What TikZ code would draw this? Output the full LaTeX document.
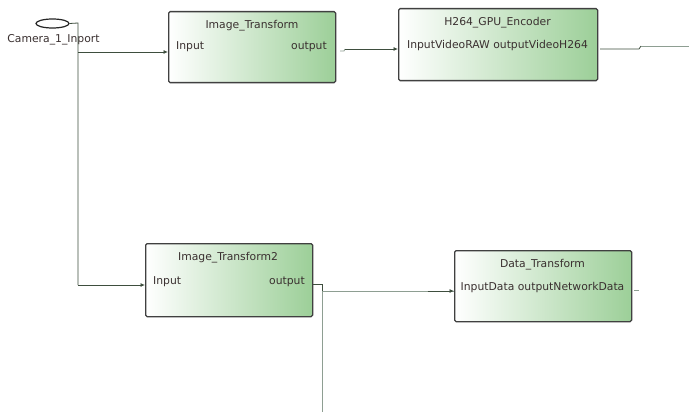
\documentclass[tikz,border=0pt]{standalone}
\usepackage{fontspec}
\setmainfont{DejaVu Sans}
\usetikzlibrary{arrows.meta,shapes.geometric,calc}
\definecolor{boxgreen}{HTML}{9CCF98}
\definecolor{wire}{HTML}{3E4E3E}
\definecolor{wirelight}{HTML}{8E9E92}
\definecolor{txt}{HTML}{3A3030}
\tikzset{
  blk/.style={draw=black!75, line width=1.3pt, rounded corners=1.5pt,
    left color=white, right color=boxgreen, anchor=north west, inner sep=0pt},
  lbl/.style={font=\fontsize{10.8}{12}\selectfont, text=txt, inner sep=0pt},
  wireln/.style={draw=wire, line width=0.8pt},
  wirelt/.style={draw=wirelight, line width=0.8pt},
  arr/.style={-{Latex[length=4.5pt,width=4pt]}}
}
\begin{document}
\begin{tikzpicture}[x=1pt,y=-1pt]
\useasboundingbox[fill=white] (0,0) rectangle (689,412);
% Camera inport
\node[draw=black!85, line width=1.2pt, ellipse, minimum width=33pt, minimum height=9pt, inner sep=0pt] (cam) at (52.5,23.5) {};
\node[lbl, anchor=center] (camlbl) at (53.5,40) {Camera\_1\_Inport};
% Blocks
\node[blk, minimum width=167pt, minimum height=71pt] (it) at (168,11) {};
\node[lbl] (itt) at (252,26) {Image\_Transform};
\node[lbl, anchor=west] (itin) at (176,47) {Input};
\node[lbl, anchor=east] (itout) at (327,47) {output};

\node[blk, minimum width=199pt, minimum height=72pt] (enc) at (398,8) {};
\node[lbl] (enct) at (497.5,23) {H264\_GPU\_Encoder};
\node[lbl] (encp) at (497.5,46) {InputVideoRAW outputVideoH264};

\node[blk, minimum width=167pt, minimum height=73pt] (it2) at (145,243) {};
\node[lbl] (it2t) at (228,258) {Image\_Transform2};
\node[lbl, anchor=west] (it2in) at (153,282) {Input};
\node[lbl, anchor=east] (it2out) at (305,282) {output};

\node[blk, minimum width=177pt, minimum height=71pt] (dt) at (454,250) {};
\node[lbl] (dtt) at (542.5,265) {Data\_Transform};
\node[lbl] (dtp) at (542.5,288) {InputData outputNetworkData};

% Coordinates for wires
\coordinate (j1) at (78,23);
\coordinate (j2) at (78,52);
\coordinate (j3) at (78,285);
\coordinate (s1a) at (340,51);
\coordinate (s1b) at (344,51);
\coordinate (s1c) at (345,49);
\coordinate (e1a) at (600,49);
\coordinate (e1b) at (639,49);
\coordinate (e1c) at (641,46);
\coordinate (e1d) at (689,46);
\coordinate (o2a) at (313,284);
\coordinate (o2b) at (322,284);
\coordinate (o2c) at (322,412);
\coordinate (o2d) at (322,291);
\coordinate (d1a) at (634,290);
\coordinate (d1b) at (639,290);

% Wires
\draw[wireln] (cam.east) -- (j1) -- (j3);
\draw[wireln, arr] (j2) -- (it.west |- j2);
\draw[wireln, arr] (j3) -- (it2.west |- j3);
\draw[wirelt] (s1a) -- (s1b) -- (s1c);
\draw[wireln, arr] (s1c) -- (enc.west |- s1c);
\draw[wireln] (e1a) -- (e1b) -- (e1c);
\draw[wirelt] (e1c) -- (e1d);
\draw[wireln] (o2a) -- (o2b) -- (o2d);
\draw[wirelt] (o2d) -- (o2c);
\draw[wirelt] (o2d) -- (dt.west |- o2d) coordinate (o2e);
\draw[wireln, arr] ($(o2d)!0.8!(o2e)$) -- (o2e);
\draw[wirelt] (d1a) -- (d1b);
\end{tikzpicture}
\end{document}
